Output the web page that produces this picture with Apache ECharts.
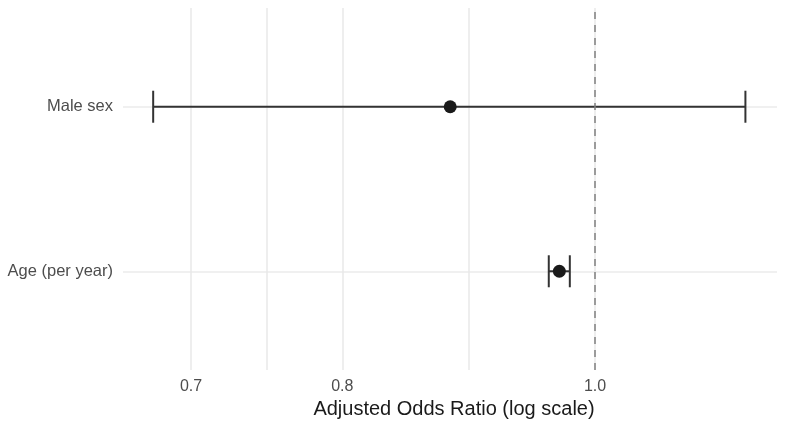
<!DOCTYPE html>
<html lang="en">
<head>
  <meta charset="UTF-8" />
  <title>Adjusted Odds Ratio</title>
  <script src="https://cdn.jsdelivr.net/npm/echarts@6/dist/echarts.min.js"></script>
  <style>
    html, body { margin: 0; padding: 0; background: #fff; }
    #main { width: 785px; height: 426px; }
  </style>
</head>
<body>
  <div id="main"></div>
  <script>
    // 数据
    var labels = ["Age (per year)", "Male sex"];   // 从下到上
    var oddsRatio = [0.969, 0.880];
    var ciLower = [0.960, 0.677];
    var ciUpper = [0.978, 1.142];
    var majorTicks = [0.7, 0.8, 1.0];
    var minorTicks = [0.7483, 0.8944];

    var points = oddsRatio.map(function (v, i) { return [v, i + 1]; });
    var bars = ciLower.map(function (v, i) { return [v, ciUpper[i], i + 1]; });

    var myChart = echarts.init(document.getElementById("main"));

    var option = {
      animation: false,
      grid: { left: 123, right: 8, top: 8, bottom: 56, outerBoundsMode: "none" },
      xAxis: {
        type: "log",
        min: 0.6592,
        max: 1.1743,
        name: "Adjusted Odds Ratio (log scale)",
        nameLocation: "middle",
        nameGap: 27,
        nameTextStyle: { color: "#1a1a1a", fontSize: 20, fontFamily: "Liberation Sans", padding: [0, 0, 0, 8] },
        axisLine: { show: false },
        axisTick: { show: false, customValues: majorTicks.concat(minorTicks) },
        axisLabel: {
          customValues: majorTicks,
          margin: 9,
          color: "#4d4d4d",
          fontSize: 16,
          fontFamily: "Liberation Sans",
          formatter: function (v) { return Number(v).toFixed(1); }
        },
        splitLine: { show: true, lineStyle: { color: "#e8e8e8", width: 1.5 } }
      },
      yAxis: {
        type: "value",
        min: 0.4,
        max: 2.6,
        axisLine: { show: false },
        axisTick: { show: false, customValues: [1, 2] },
        axisLabel: {
          customValues: [1, 2],
          margin: 10,
          color: "#4d4d4d",
          fontSize: 16.5,
          fontFamily: "Liberation Sans",
          formatter: function (v) { return labels[Math.round(v) - 1]; }
        },
        splitLine: { show: true, lineStyle: { color: "#ebebeb", width: 1.5 } }
      },
      series: [
        {
          // 置信区间
          type: "custom",
          data: bars,
          renderItem: function (params, api) {
            var lo = api.coord([api.value(0), api.value(2)]);
            var hi = api.coord([api.value(1), api.value(2)]);
            var h = 16;
            var style = { stroke: "#333333", lineWidth: 2 };
            return {
              type: "group",
              children: [
                { type: "line", shape: { x1: lo[0], y1: lo[1], x2: hi[0], y2: hi[1] }, style: style },
                { type: "line", shape: { x1: lo[0], y1: lo[1] - h, x2: lo[0], y2: lo[1] + h }, style: style },
                { type: "line", shape: { x1: hi[0], y1: hi[1] - h, x2: hi[0], y2: hi[1] + h }, style: style }
              ]
            };
          },
          markLine: {
            silent: true,
            symbol: "none",
            label: { show: false },
            lineStyle: { color: "#808080", type: [7, 6], width: 1.5 },
            data: [{ xAxis: 1 }]
          },
          z: 3
        },
        {
          type: "scatter",
          data: points,
          symbolSize: 13,
          itemStyle: { color: "#1a1a1a", opacity: 1 },
          z: 4
        }
      ]
    };

    myChart.setOption(option);
  </script>
</body>
</html>
